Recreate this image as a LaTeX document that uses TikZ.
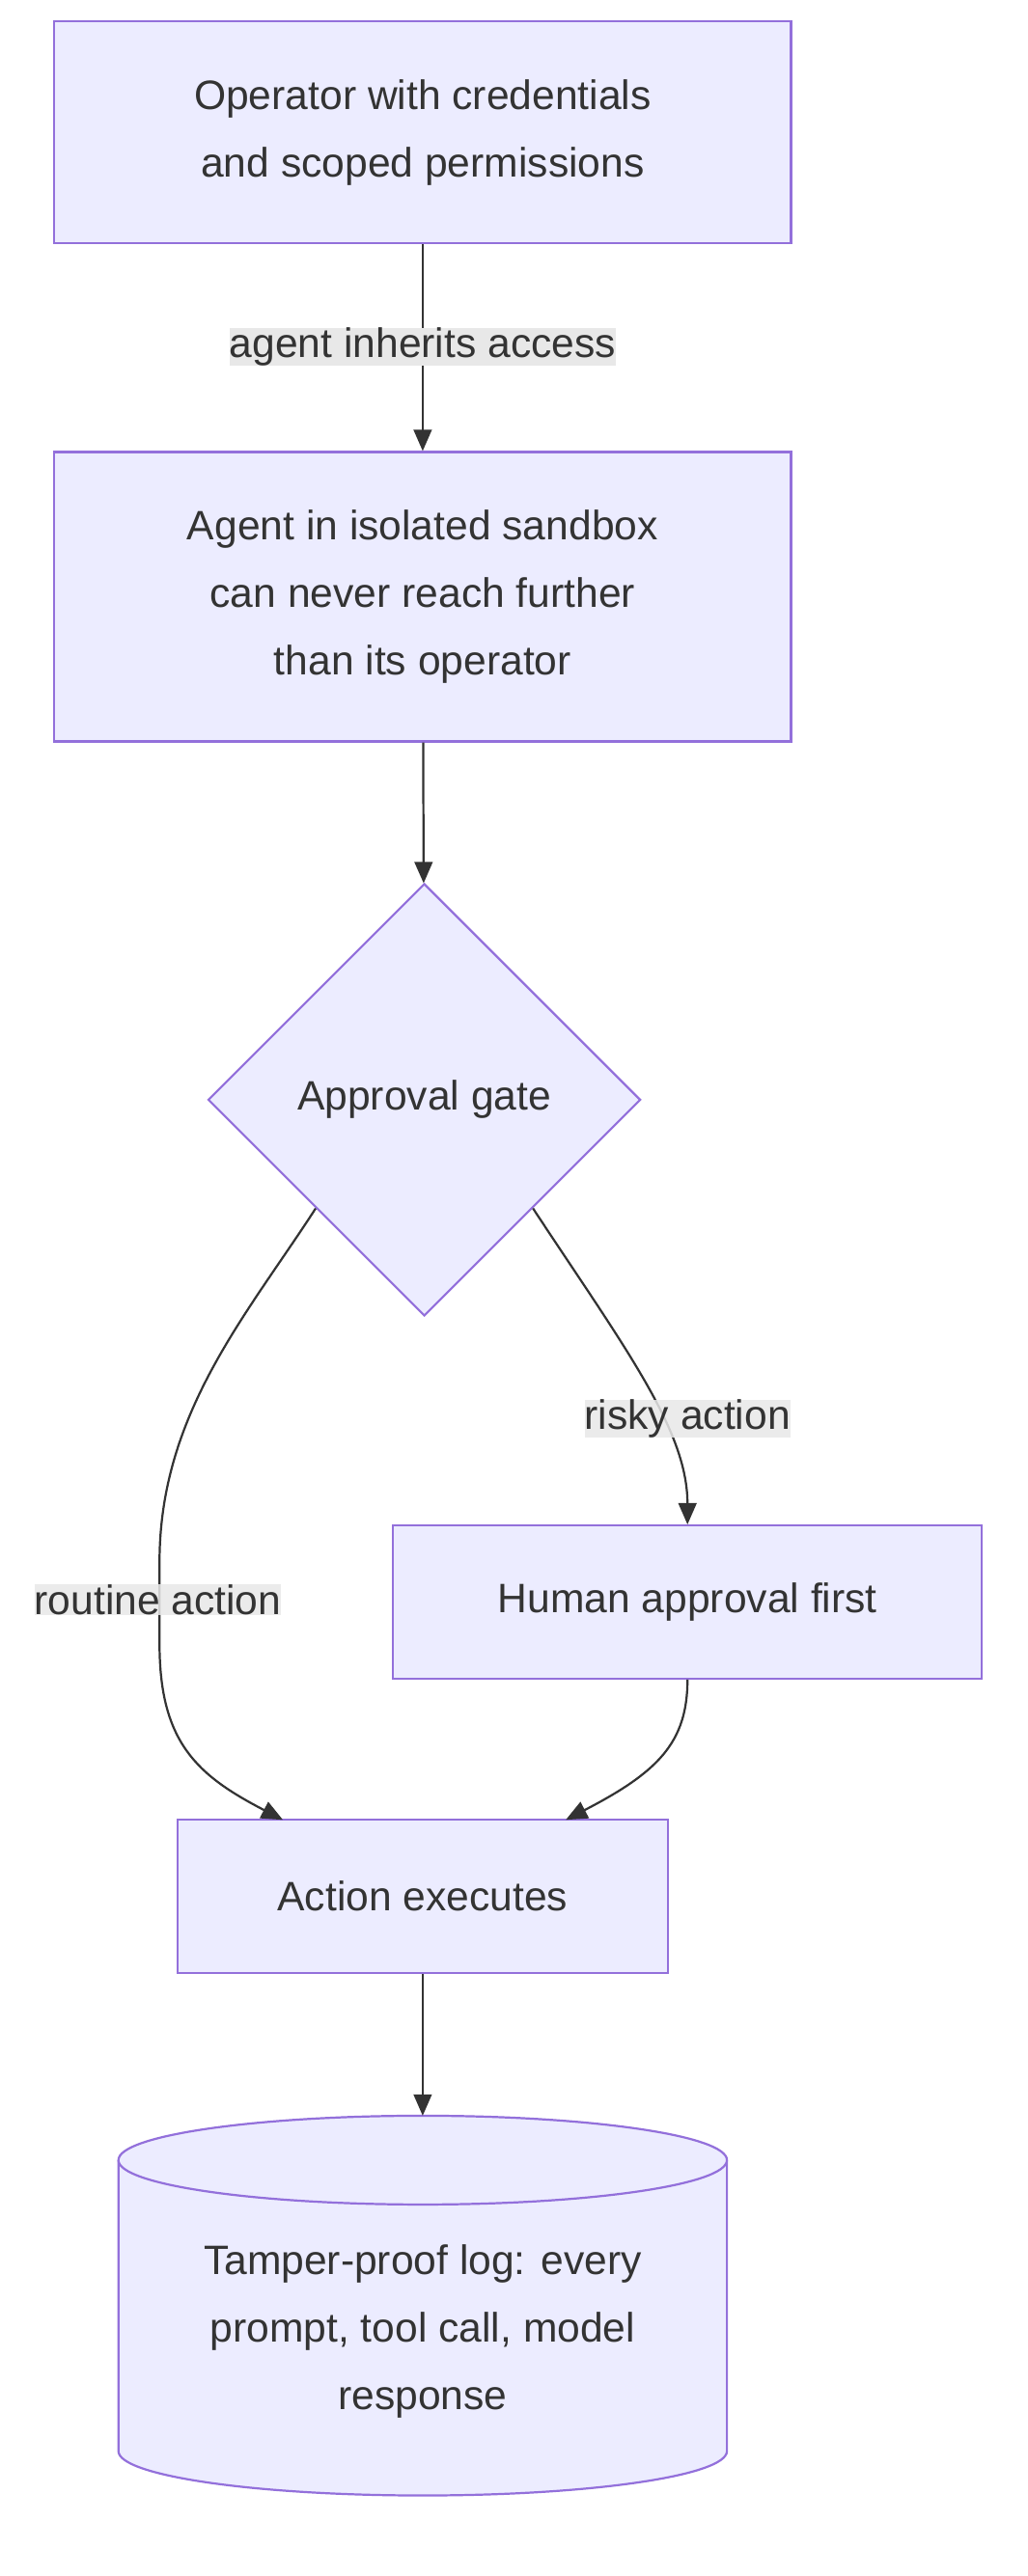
\documentclass[tikz,border=0pt]{standalone}
\usepackage{fontspec}
\setmainfont{Liberation Sans}
\usetikzlibrary{arrows.meta,shapes.geometric}
\definecolor{nf}{HTML}{ECECFF}
\definecolor{ns}{HTML}{9370DB}
\definecolor{tx}{HTML}{333333}
\definecolor{lb}{HTML}{E8E8E8}
\begin{document}
\begin{tikzpicture}[x=1pt,y=-1pt,
  box/.style={draw=ns,fill=nf,line width=1.3pt,text=tx,font=\fontsize{25}{41}\selectfont,align=center,inner sep=0pt},
  lab/.style={fill=lb,text=tx,font=\fontsize{25}{30}\selectfont,inner sep=0pt},
  e/.style={draw=tx,line width=1.3pt,-{Triangle[length=13pt,width=11pt]}}]
\useasboundingbox (0,0) rectangle (625,1567);
\node[box,minimum width=448pt,minimum height=135pt] (op) at (257,80.5) {Operator with credentials\\ and scoped permissions};
\node[box,minimum width=448pt,minimum height=176pt] (ag) at (257,363) {Agent in isolated sandbox\\can never reach further\\than its operator};
\node[box,diamond,minimum width=263pt,minimum height=263pt] (gate) at (258,669) {Approval gate};
\node[box,minimum width=358pt,minimum height=93pt] (hum) at (418,974.5) {Human approval first};
\node[box,minimum width=298pt,minimum height=93pt] (act) at (257,1153.5) {Action executes};
% cylinder
\draw[draw=ns,fill=nf,line width=1.3pt] (72,1314) arc[start angle=180,end angle=360,x radius=185,y radius=27] -- (442,1491) arc[start angle=0,end angle=180,x radius=185,y radius=27] -- cycle;
\draw[draw=ns,line width=1.3pt] (72,1314) arc[start angle=180,end angle=0,x radius=185,y radius=27];
\coordinate (logtop) at (257,1287);
\node[text=tx,font=\fontsize{25}{41}\selectfont,align=center] (log) at (257,1418) {Tamper-proof log: every\\prompt, tool call, model\\response};
\draw[e] (op) -- (ag);
\node[lab] (l1) at (257,211) {agent inherits access};
\draw[e] (ag) -- (gate);
\draw[e] (gate.225) .. controls (150,800) and (97,860) .. (97,950) -- (97,1000) .. controls (97,1060) and (120,1080) .. (172,1107);
\draw[e] (gate.315) .. controls (380,820) and (418,870) .. (hum.north);
\draw[e] (hum.south) .. controls (418,1060) and (400,1078) .. (344,1107);
\draw[e] (act) -- (logtop);
\node[lab,fill opacity=0.85,text opacity=1] (l2) at (96,973) {routine action};
\node[lab,fill opacity=0.85,text opacity=1] (l3) at (418,863) {risky action};
\end{tikzpicture}
\end{document}
